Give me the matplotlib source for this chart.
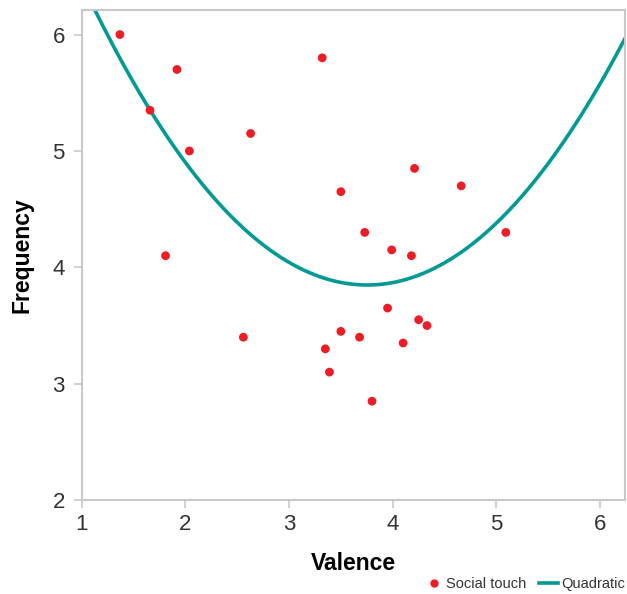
import numpy as np
import matplotlib
matplotlib.use("Agg")
import matplotlib.pyplot as plt
from matplotlib.lines import Line2D

# ---- data ----
valence = [1.37, 1.92, 1.66, 2.04, 2.63, 1.81, 3.32, 2.56, 3.50, 3.73, 3.99, 4.18,
           4.21, 4.66, 5.09, 3.95, 3.50, 3.68, 3.35, 3.39, 3.80, 4.10, 4.25, 4.33]
frequency = [6.00, 5.70, 5.35, 5.00, 5.15, 4.10, 5.80, 3.40, 4.65, 4.30, 4.15, 4.10,
             4.85, 4.70, 4.30, 3.65, 3.45, 3.40, 3.30, 3.10, 2.85, 3.35, 3.55, 3.50]
quad_coefs = [0.343, -2.575, 8.681]  # c2, c1, c0 of the fitted quadratic
x_ticks = [1, 2, 3, 4, 5, 6]
y_ticks = [2, 3, 4, 5, 6]

plt.rcParams['font.family'] = ['Liberation Sans', 'DejaVu Sans']

fig = plt.figure(figsize=(6.27, 5.94), dpi=100)
ax = fig.add_axes([0.130, 0.158, 0.867, 0.825])

xlim = (1, 6.24)
ylim = (2, 6.21)
xs = np.linspace(xlim[0], xlim[1], 400)
ax.plot(xs, np.polyval(quad_coefs, xs), color='#009a94', lw=2.6, zorder=2, clip_on=True)
ax.scatter(valence, frequency, s=40, color='#ee1d25', edgecolors='none', zorder=3)

ax.set_xlim(*xlim)
ax.set_ylim(*ylim)
ax.set_xticks(x_ticks)
ax.set_yticks(y_ticks)
for s in ax.spines.values():
    s.set_color('#c8c8c8')
    s.set_linewidth(1.5)
ax.tick_params(direction='out', length=6, width=1.2, color='#c8c8c8',
               labelsize=16, labelcolor='#333333')
ax.tick_params(axis='x', pad=4)
ax.tick_params(axis='y', pad=6)

ax.set_xlabel('Valence', fontsize=16.5, fontweight='bold', labelpad=12)
ax.set_ylabel('Frequency', fontsize=16.5, fontweight='bold', labelpad=14)

handles = [Line2D([], [], marker='o', ls='none', color='#ee1d25', markersize=5),
           Line2D([], [], color='#009a94', lw=2.6)]
leg = fig.legend(handles, ['Social touch', 'Quadratic'], loc='lower right',
                 bbox_to_anchor=(1.018, -0.017), ncol=2, frameon=False,
                 handlelength=1.3, handletextpad=0.2, columnspacing=0.9,
                 prop={'size': 10.5})
for t in leg.get_texts():
    t.set_color('#333333')

fig.savefig('out.png', dpi=100)
